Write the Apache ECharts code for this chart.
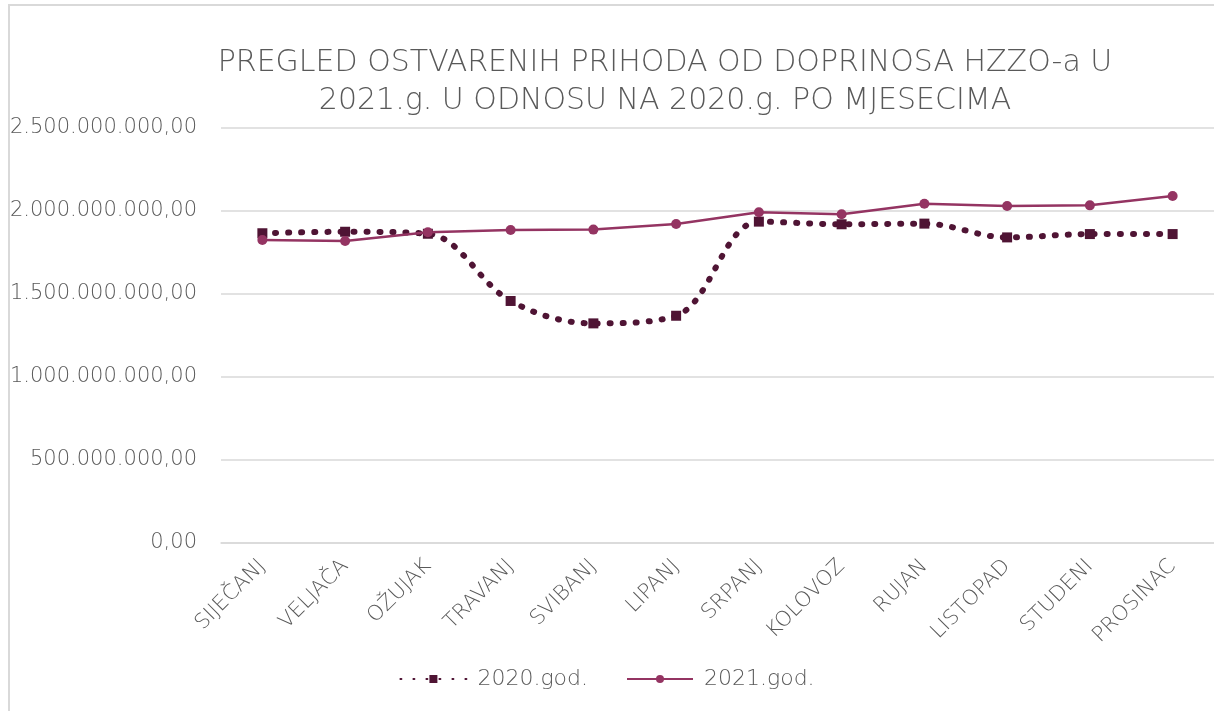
<!DOCTYPE html>
<html>
<head>
<meta charset="utf-8">
<script src="https://cdn.jsdelivr.net/npm/echarts@6/dist/echarts.min.js"></script>
<style>
  html, body { margin: 0; padding: 0; background: #fff; overflow: hidden; }
  #frame { position: absolute; left: 8px; top: 4px; width: 1230px; height: 730px; border: 2px solid #d9d9d9; box-sizing: border-box; }
  #chart { position: absolute; left: 0; top: 0; width: 1214px; height: 711px; }
</style>
</head>
<body>
<div id="frame"></div>
<div id="chart"></div>
<script>
// mjeseci
const months = ['SIJEČANJ', 'VELJAČA', 'OŽUJAK', 'TRAVANJ', 'SVIBANJ', 'LIPANJ', 'SRPANJ', 'KOLOVOZ', 'RUJAN', 'LISTOPAD', 'STUDENI', 'PROSINAC'];
// prihodi 2020 i 2021 (kn)
const god2020 = [1866e6, 1875e6, 1863e6, 1458e6, 1323e6, 1369e6, 1936e6, 1920e6, 1924e6, 1841e6, 1861e6, 1861e6];
const god2021 = [1825e6, 1819e6, 1872e6, 1886e6, 1888e6, 1922e6, 1992e6, 1980e6, 2044e6, 2030e6, 2034e6, 2090e6];
const yTicks = [0, 5e8, 1e9, 1.5e9, 2e9, 2.5e9];

(function () {
    let myChart = echarts.init(document.getElementById('chart'));
    const font = '"DejaVu Sans", sans-serif';
    const grey = '#595959';

    // 2.500.000.000,00
    function fmt(v) {
        let s = Math.round(v).toString().replace(/\B(?=(\d{3})+(?!\d))/g, '.');
        return s + ',00';
    }

    let option = {
        animation: false,
        title: {
            text: 'PREGLED OSTVARENIH PRIHODA OD DOPRINOSA HZZO-a U\n2021.g. U ODNOSU NA 2020.g. PO MJESECIMA',
            left: 660,
            top: 39,
            textAlign: 'center',
            textStyle: { fontFamily: font, fontWeight: 200, fontSize: 30, color: grey, lineHeight: 38 }
        },
        legend: {
            bottom: 16,
            left: 'center',
            itemWidth: 66,
            itemHeight: 10,
            itemGap: 38,
            textStyle: { fontFamily: font, fontWeight: 200, fontSize: 22, color: grey, padding: [0, 0, 0, 6] },
            data: ['2020.god.', '2021.god.']
        },
        grid: { left: 221, top: 128, width: 997, height: 415 },
        xAxis: {
            type: 'category',
            data: months,
            axisTick: { show: false },
            axisLine: { lineStyle: { color: '#d9d9d9', width: 1.5 } },
            axisLabel: { rotate: 45, interval: 0, margin: 20, fontFamily: font, fontWeight: 200, fontSize: 21, color: grey }
        },
        yAxis: {
            type: 'value',
            min: 0,
            max: yTicks[yTicks.length - 1],
            interval: yTicks[1] - yTicks[0],
            axisLine: { show: false },
            axisTick: { show: false },
            axisLabel: { margin: 24, fontFamily: font, fontWeight: 200, fontSize: 21, color: grey, formatter: fmt },
            splitLine: { lineStyle: { color: '#d9d9d9', width: 1.5 } }
        },
        series: [
            {
                name: '2020.god.',
                type: 'line',
                data: god2020,
                smooth: 0.35,
                symbol: 'rect',
                symbolSize: 10,
                itemStyle: { color: '#4f1434' },
                lineStyle: { color: '#4f1434', width: 6, type: [1, 12], cap: 'round' }
            },
            {
                name: '2021.god.',
                type: 'line',
                data: god2021,
                symbol: 'circle',
                symbolSize: 10,
                itemStyle: { color: '#943462' },
                lineStyle: { color: '#943462', width: 2.5 }
            }
        ]
    };
    myChart.setOption(option);
})();
</script>
</body>
</html>
